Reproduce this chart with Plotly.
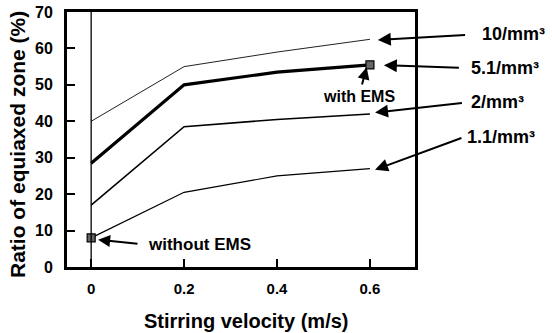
import plotly.graph_objects as go

velocity = [0, 0.2, 0.4, 0.6]
ratio_10 = [40, 55, 59, 62.5]
ratio_5_1 = [28.5, 50, 53.5, 55.5]
ratio_2 = [17, 38.5, 40.5, 42]
ratio_1_1 = [8, 20.5, 25, 27]

x_ticks = [0, 0.2, 0.4, 0.6]
x_tick_labels = ["0", "0.2", "0.4", "0.6"]
y_ticks = [0, 10, 20, 30, 40, 50, 60, 70]

FONT = "Liberation Sans, Arial, Helvetica, sans-serif"

fig = go.Figure()

series = [
    (ratio_10, 1.0, "#222"),
    (ratio_5_1, 3.2, "black"),
    (ratio_2, 1.6, "black"),
    (ratio_1_1, 1.2, "black"),
]
for vals, w, c in series:
    fig.add_trace(go.Scatter(x=velocity, y=vals, mode="lines",
                             line=dict(color=c, width=w), showlegend=False,
                             cliponaxis=False))

# markers: without EMS (first point of 1.1/mm3) and with EMS (last point of 5.1/mm3)
fig.add_trace(go.Scatter(x=[velocity[0], velocity[-1]], y=[ratio_1_1[0], ratio_5_1[-1]],
                         mode="markers",
                         marker=dict(symbol="square", size=8, color="#666",
                                     line=dict(color="black", width=1.2)),
                         showlegend=False, cliponaxis=False))

# vertical reference line at zero velocity
fig.add_shape(type="line", xref="x", yref="paper", x0=0, x1=0, y0=0, y1=1,
              line=dict(color="black", width=1.3))

# (label, text-left x, text-centre y, arrow head x, arrow head y, gap)
labels = [
    ("10/mm³", 0.837, 63.9, 0.617, 62.3, 15),
    ("5.1/mm³", 0.813, 54.6, 0.630, 55.4, 10),
    ("2/mm³", 0.813, 45.2, 0.611, 42.4, 7),
    ("1.1/mm³", 0.805, 35.8, 0.611, 26.7, 4),
]
for txt, tx, ty, hx, hy, gap in labels:
    fig.add_annotation(x=hx, y=hy, ax=tx, ay=ty, xref="x", yref="y", axref="x", ayref="y",
                       text=txt, showarrow=True, xanchor="left", yanchor="middle",
                       arrowhead=2, arrowsize=1.3, arrowwidth=2, arrowcolor="black",
                       startstandoff=gap,
                       font=dict(family=FONT, size=18, color="black", weight="bold"))

fig.add_annotation(x=0.593, y=54.8, ax=0.576, ay=46.8, xref="x", yref="y", axref="x",
                   ayref="y", text="with EMS", showarrow=True, arrowhead=2, arrowsize=1.2,
                   arrowwidth=2, arrowcolor="black", startstandoff=2,
                   font=dict(family=FONT, size=16, color="black", weight="bold"))

fig.add_annotation(x=0.015, y=7.5, ax=0.119, ay=6.1, xref="x", yref="y", axref="x",
                   ayref="y", text="without EMS", showarrow=True, xanchor="left",
                   yanchor="middle", arrowhead=2, arrowsize=1.2, arrowwidth=2,
                   arrowcolor="black", startstandoff=9,
                   font=dict(family=FONT, size=17, color="black", weight="bold"))

# axis titles
fig.add_annotation(x=0.517, y=-0.212, xref="paper", yref="paper",
                   text="Stirring velocity (m/s)", showarrow=False,
                   xanchor="center", yanchor="middle",
                   font=dict(family=FONT, size=20, color="black", weight="bold"))
fig.add_annotation(x=-0.144, y=0.482, xref="paper", yref="paper",
                   text="Ratio of equiaxed zone (%)", showarrow=False, textangle=-90,
                   xanchor="center", yanchor="middle",
                   font=dict(family=FONT, size=21, color="black", weight="bold"))

fig.update_xaxes(range=[-0.052, 0.697], tickvals=x_ticks, ticktext=x_tick_labels,
                 ticks="inside", ticklen=8, tickwidth=2, tickcolor="black",
                 showline=True, linewidth=3, linecolor="black", mirror=True,
                 showgrid=False, zeroline=False, automargin=False,
                 tickfont=dict(family=FONT, size=15, color="black", weight="bold"),
                 ticklabelstandoff=6)
fig.update_yaxes(range=[0, 70], tickvals=y_ticks,
                 ticks="inside", ticklen=8, tickwidth=2, tickcolor="black",
                 showline=True, linewidth=3, linecolor="black", mirror=True,
                 showgrid=False, zeroline=False, automargin=False,
                 tickfont=dict(family=FONT, size=16, color="black", weight="bold"),
                 ticklabelstandoff=8)

fig.update_layout(width=552, height=333, margin=dict(l=67, r=137, t=12, b=66),
                  plot_bgcolor="white", paper_bgcolor="white", showlegend=False)

fig.write_html("out.html")
